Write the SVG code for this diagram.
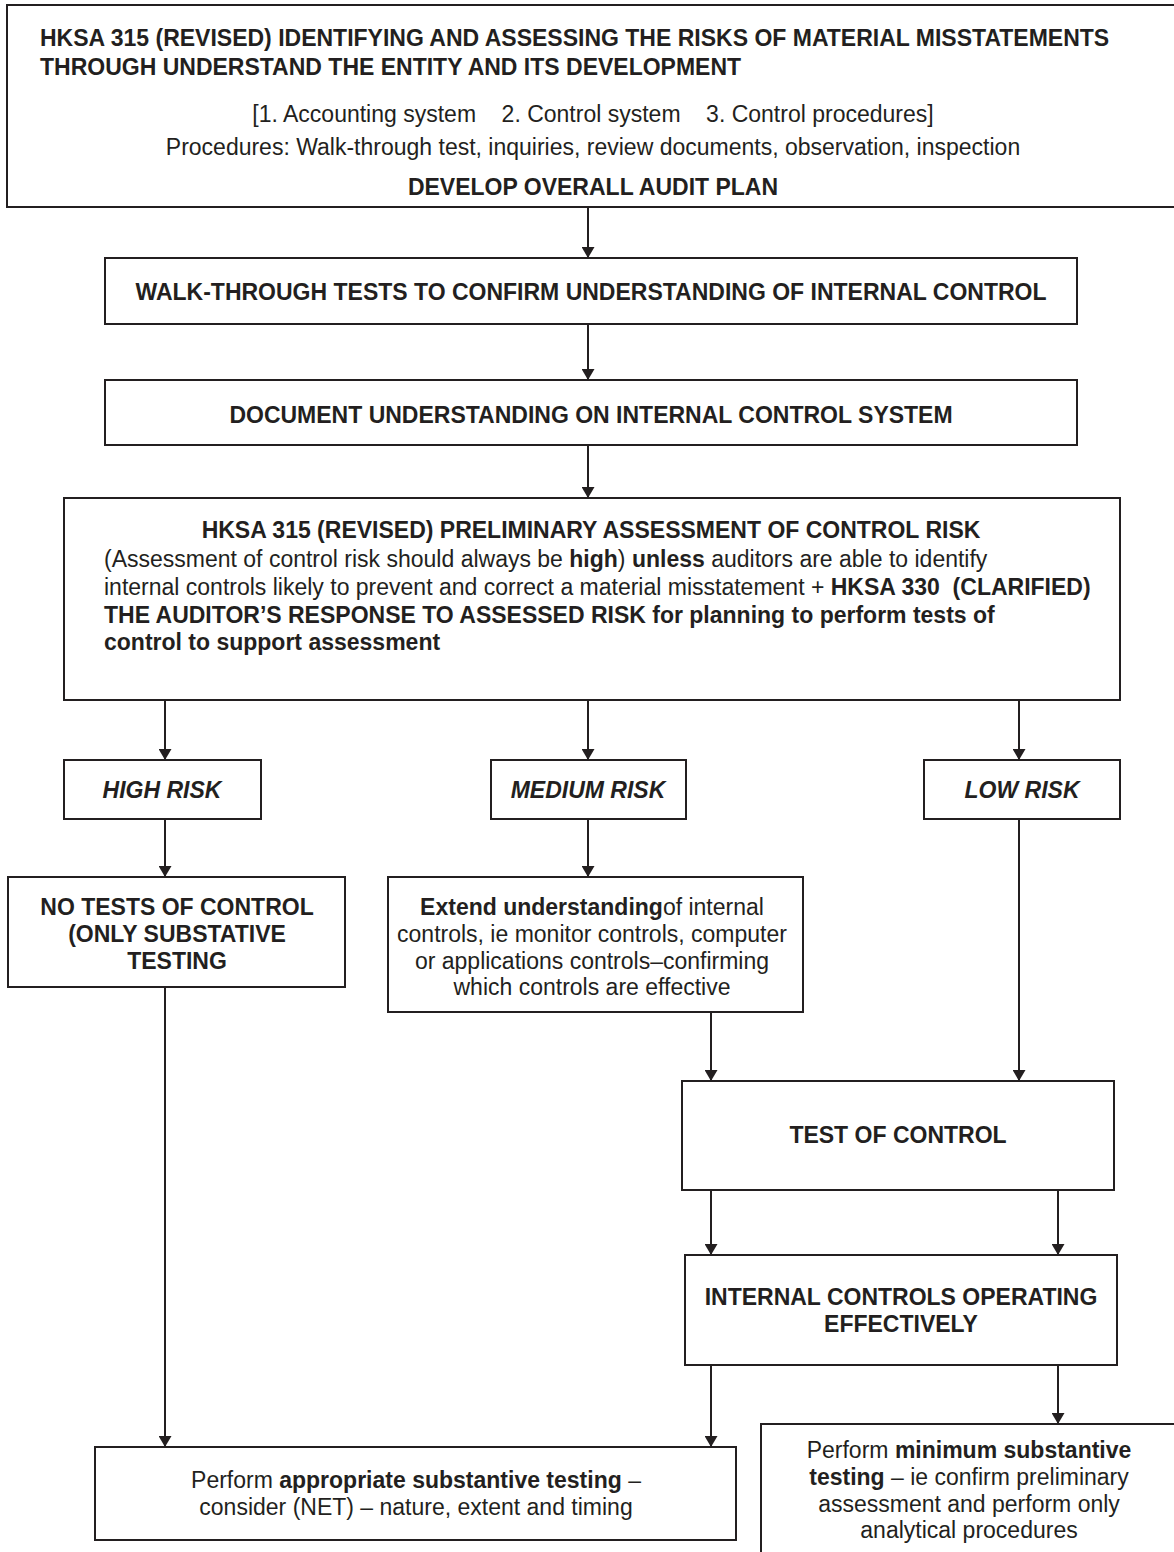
<svg xmlns="http://www.w3.org/2000/svg" width="1174" height="1552" viewBox="0 0 1174 1552">
  <style>
    .box { fill: #ffffff; stroke: #231f20; stroke-width: 2; }
    .t { font-family: "Liberation Sans", Arial, Helvetica, sans-serif; font-size: 23px; fill: #231f20; }
    .b { font-weight: bold; }
    .i { font-style: italic; }
    .c { text-anchor: middle; }
    .con { stroke: #231f20; stroke-width: 2; fill: none; marker-end: url(#arrow); }
  </style>
  <defs>
    <marker id="arrow" viewBox="0 0 11 13" refX="11" refY="6.5" markerWidth="11" markerHeight="13" markerUnits="userSpaceOnUse" orient="auto">
      <path d="M0,0 L11,6.5 L0,13 z" fill="#231f20"/>
    </marker>
  </defs>
  <rect width="1174" height="1552" fill="#ffffff"/>

  <!-- connectors -->
  <g id="connectors">
    <line class="con" x1="588" y1="207" x2="588" y2="258"/>
    <line class="con" x1="588" y1="324" x2="588" y2="380"/>
    <line class="con" x1="588" y1="445" x2="588" y2="498"/>
    <line class="con" x1="165" y1="700" x2="165" y2="760"/>
    <line class="con" x1="588" y1="700" x2="588" y2="760"/>
    <line class="con" x1="1019" y1="700" x2="1019" y2="760"/>
    <line class="con" x1="165" y1="819" x2="165" y2="877"/>
    <line class="con" x1="588" y1="819" x2="588" y2="877"/>
    <line class="con" x1="1019" y1="819" x2="1019" y2="1081"/>
    <line class="con" x1="711" y1="1012" x2="711" y2="1081"/>
    <line class="con" x1="165" y1="987" x2="165" y2="1447"/>
    <line class="con" x1="711" y1="1190" x2="711" y2="1255"/>
    <line class="con" x1="1058" y1="1190" x2="1058" y2="1255"/>
    <line class="con" x1="711" y1="1365" x2="711" y2="1447"/>
    <line class="con" x1="1058" y1="1365" x2="1058" y2="1424"/>
  </g>

  <!-- understanding the entity -->
  <g id="understand-entity">
    <rect class="box" x="7" y="5" width="1180" height="202"/>
    <text class="t b" x="40" y="46">HKSA 315 (REVISED) IDENTIFYING AND ASSESSING THE RISKS OF MATERIAL MISSTATEMENTS</text>
    <text class="t b" x="40" y="75">THROUGH UNDERSTAND THE ENTITY AND ITS DEVELOPMENT</text>
    <text class="t c" x="593" y="122" xml:space="preserve">[1. Accounting system    2. Control system    3. Control procedures]</text>
    <text class="t c" x="593" y="155">Procedures: Walk-through test, inquiries, review documents, observation, inspection</text>
    <text class="t b c" x="593" y="195">DEVELOP OVERALL AUDIT PLAN</text>
  </g>

  <!-- walk-through tests -->
  <g id="walk-through">
    <rect class="box" x="105" y="258" width="972" height="66"/>
    <text class="t b c" x="591" y="300">WALK-THROUGH TESTS TO CONFIRM UNDERSTANDING OF INTERNAL CONTROL</text>
  </g>

  <!-- documentation -->
  <g id="document-understanding">
    <rect class="box" x="105" y="380" width="972" height="65"/>
    <text class="t b c" x="591" y="423">DOCUMENT UNDERSTANDING ON INTERNAL CONTROL SYSTEM</text>
  </g>

  <!-- preliminary assessment -->
  <g id="preliminary-assessment">
    <rect class="box" x="64" y="498" width="1056" height="202"/>
    <text class="t b c" x="591" y="538">HKSA 315 (REVISED) PRELIMINARY ASSESSMENT OF CONTROL RISK</text>
    <text class="t" x="104" y="567" xml:space="preserve">(Assessment of control risk should always be <tspan class="b">high</tspan>) <tspan class="b">unless</tspan> auditors are able to identify</text>
    <text class="t" x="104" y="595" xml:space="preserve">internal controls likely to prevent and correct a material misstatement + <tspan class="b">HKSA 330  (CLARIFIED)</tspan></text>
    <text class="t b" x="104" y="623">THE AUDITOR’S RESPONSE TO ASSESSED RISK for planning to perform tests of</text>
    <text class="t b" x="104" y="650">control to support assessment</text>
  </g>

  <!-- risk levels -->
  <g id="high-risk">
    <rect class="box" x="64" y="760" width="197" height="59"/>
    <text class="t b i c" x="162" y="798">HIGH RISK</text>
  </g>
  <g id="medium-risk">
    <rect class="box" x="491" y="760" width="195" height="59"/>
    <text class="t b i c" x="588" y="798">MEDIUM RISK</text>
  </g>
  <g id="low-risk">
    <rect class="box" x="924" y="760" width="196" height="59"/>
    <text class="t b i c" x="1022" y="798">LOW RISK</text>
  </g>

  <!-- high risk outcome -->
  <g id="no-tests-of-control">
    <rect class="box" x="8" y="877" width="337" height="110"/>
    <text class="t b c" x="177" y="915">NO TESTS OF CONTROL</text>
    <text class="t b c" x="177" y="942">(ONLY SUBSTATIVE</text>
    <text class="t b c" x="177" y="969">TESTING</text>
  </g>

  <!-- medium risk outcome -->
  <g id="extend-understanding">
    <rect class="box" x="388" y="877" width="415" height="135"/>
    <text class="t c" x="592" y="915"><tspan class="b">Extend understanding</tspan>of internal</text>
    <text class="t c" x="592" y="942">controls, ie monitor controls, computer</text>
    <text class="t c" x="592" y="969">or applications controls–confirming</text>
    <text class="t c" x="592" y="995">which controls are effective</text>
  </g>

  <!-- tests of control -->
  <g id="test-of-control">
    <rect class="box" x="682" y="1081" width="432" height="109"/>
    <text class="t b c" x="898" y="1143">TEST OF CONTROL</text>
  </g>

  <g id="controls-effective">
    <rect class="box" x="685" y="1255" width="432" height="110"/>
    <text class="t b c" x="901" y="1305">INTERNAL CONTROLS OPERATING</text>
    <text class="t b c" x="901" y="1332">EFFECTIVELY</text>
  </g>

  <!-- substantive testing -->
  <g id="appropriate-substantive">
    <rect class="box" x="95" y="1447" width="641" height="93"/>
    <text class="t c" x="416" y="1488">Perform <tspan class="b">appropriate substantive testing</tspan> –</text>
    <text class="t c" x="416" y="1515">consider (NET) – nature, extent and timing</text>
  </g>

  <g id="minimum-substantive">
    <rect class="box" x="761" y="1424" width="430" height="140"/>
    <text class="t c" x="969" y="1458">Perform <tspan class="b">minimum substantive</tspan></text>
    <text class="t c" x="969" y="1485"><tspan class="b">testing</tspan> – ie confirm preliminary</text>
    <text class="t c" x="969" y="1512">assessment and perform only</text>
    <text class="t c" x="969" y="1538">analytical procedures</text>
  </g>
</svg>
